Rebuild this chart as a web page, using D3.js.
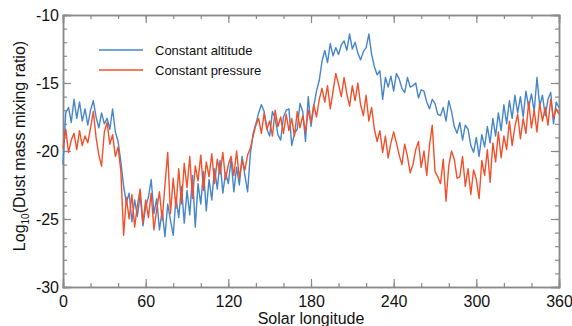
<!DOCTYPE html>
<html>
<head>
<meta charset="utf-8">
<script src="https://cdn.jsdelivr.net/npm/d3@7"></script>
<style>
  body { margin: 0; background: #fff; }
  svg { display: block; font-family: "Liberation Sans", Arial, sans-serif; }
</style>
</head>
<body>
<svg id="chart" width="572" height="326"></svg>
<script>
'use strict';

// solar longitude sampling (every 2 degrees)
var longitude = d3.range(0, 361, 2);

// log10 dust mass mixing ratio
var constAltitude = [
  -21.0,-17.2,-16.8,-17.9,-16.2,-17.6,-16.4,-17.8,-16.9,-18.1,
  -17.0,-16.3,-17.5,-18.3,-17.2,-18.0,-17.6,-18.4,-16.9,-18.6,
  -19.3,-20.8,-22.6,-23.8,-23.1,-25.2,-23.6,-24.8,-23.2,-25.5,
  -24.1,-23.4,-22.1,-24.6,-23.5,-25.8,-24.4,-26.3,-23.9,-25.1,
  -26.2,-23.4,-24.9,-22.6,-25.3,-22.9,-24.7,-21.8,-25.6,-22.4,
  -23.9,-21.5,-24.4,-22.1,-23.6,-21.3,-22.8,-20.7,-23.1,-21.6,
  -22.4,-20.6,-23.0,-21.2,-22.5,-20.4,-21.8,-23.0,-20.2,-18.7,
  -18.0,-17.2,-16.6,-17.1,-18.4,-18.9,-17.1,-17.6,-18.8,-19.2,
  -17.5,-17.0,-16.9,-19.6,-18.7,-18.4,-16.5,-17.1,-19.3,-16.0,
  -18.2,-16.7,-15.6,-14.8,-13.4,-12.6,-13.5,-12.1,-13.0,-12.4,
  -12.9,-12.2,-11.9,-12.6,-11.4,-12.5,-12.0,-12.8,-13.3,-12.7,
  -12.4,-11.4,-12.9,-13.8,-14.4,-14.1,-16.2,-14.6,-15.3,-14.5,
  -15.6,-14.3,-14.7,-15.4,-15.7,-14.6,-15.3,-15.2,-15.0,-16.1,
  -15.5,-15.6,-16.4,-16.9,-16.2,-16.5,-17.3,-17.4,-16.8,-17.8,
  -16.3,-17.1,-18.2,-18.7,-17.9,-19.2,-18.1,-18.4,-19.6,-20.1,
  -19.0,-20.4,-18.8,-19.7,-18.2,-19.4,-17.6,-18.9,-17.2,-18.5,
  -16.6,-18.0,-16.3,-17.6,-15.9,-17.2,-16.0,-17.5,-15.6,-16.8,
  -15.8,-17.1,-14.6,-16.7,-15.9,-17.4,-16.2,-15.7,-18.0,-16.4,
  -16.8
];

var constPressure = [
  -19.8,-18.4,-20.1,-19.2,-18.7,-19.9,-18.5,-19.6,-18.9,-19.4,
  -18.3,-17.1,-19.0,-20.3,-21.1,-18.6,-17.9,-19.5,-18.8,-20.4,
  -19.7,-21.5,-26.2,-23.4,-25.0,-23.2,-25.6,-24.0,-22.8,-25.3,
  -23.6,-24.9,-23.1,-25.8,-24.3,-23.0,-25.1,-22.5,-20.1,-24.6,
  -22.0,-24.2,-21.3,-23.9,-20.9,-22.7,-20.4,-23.5,-21.1,-22.2,
  -20.3,-22.9,-20.8,-21.9,-20.2,-22.4,-20.6,-21.7,-20.1,-22.1,
  -21.0,-20.4,-21.8,-20.0,-22.0,-20.7,-21.4,-20.3,-19.8,-18.9,
  -18.1,-17.6,-18.7,-17.2,-18.4,-17.8,-18.9,-17.0,-18.2,-17.5,
  -18.7,-17.3,-18.5,-17.6,-18.9,-17.1,-18.3,-17.4,-18.6,-17.0,
  -17.9,-16.6,-17.5,-16.2,-15.4,-16.4,-15.2,-16.9,-15.6,-14.3,
  -15.1,-16.0,-14.6,-15.8,-16.7,-15.2,-16.3,-15.0,-16.6,-17.4,
  -15.9,-17.8,-16.8,-18.4,-19.3,-18.5,-20.1,-18.9,-20.5,-19.4,
  -18.6,-19.4,-20.3,-21.0,-19.5,-20.4,-21.6,-21.0,-19.9,-19.3,
  -21.2,-20.0,-21.8,-19.6,-18.1,-21.5,-21.9,-22.4,-20.6,-23.7,
  -21.1,-20.0,-20.6,-22.0,-21.9,-20.4,-22.6,-21.3,-23.2,-21.4,
  -22.1,-23.5,-20.7,-21.8,-19.9,-22.3,-19.4,-20.8,-18.6,-20.5,
  -18.9,-19.9,-17.8,-19.6,-18.2,-17.3,-19.1,-17.6,-18.7,-16.4,
  -18.3,-17.0,-18.6,-16.5,-17.8,-16.8,-18.1,-16.2,-17.6,-16.9,
  -17.3
];

var xTicks = [0, 60, 120, 180, 240, 300, 360];
var yTicks = [-30, -25, -20, -15, -10];
var seriesNames = ['Constant altitude', 'Constant pressure'];
var seriesColors = ['#4585cc', '#f2502a'];

var plotLeft = 63, plotRight = 559, plotTop = 15, plotBottom = 287;
var svg = d3.select('#chart');

var x = d3.scaleLinear().domain([0, 360]).range([plotLeft, plotRight]);
var y = d3.scaleLinear().domain([-30, -10]).range([plotBottom, plotTop]);

var axisColor = '#8a8a8a';
var plainLabel = function(d) { return String(d); };   // keeps the plain hyphen minus

function styleAxis(g) {
  g.select('.domain').attr('stroke', axisColor).attr('stroke-width', 1.5);
  g.selectAll('.tick line').attr('stroke', axisColor).attr('stroke-width', 1.2);
  g.selectAll('.tick text').attr('fill', '#111').attr('font-size', 16);
}

// minor ticks first
var minorX = d3.range(0, 361, 20);
var minorY = d3.range(-30, -9, 1);
svg.append('g').attr('transform', 'translate(0,' + plotBottom + ')')
  .call(d3.axisBottom(x).tickValues(minorX).tickSize(-4).tickFormat('')).call(styleAxis);
svg.append('g').attr('transform', 'translate(0,' + plotTop + ')')
  .call(d3.axisTop(x).tickValues(minorX).tickSize(-4).tickFormat('')).call(styleAxis);
svg.append('g').attr('transform', 'translate(' + plotLeft + ',0)')
  .call(d3.axisLeft(y).tickValues(minorY).tickSize(-4).tickFormat('')).call(styleAxis);
svg.append('g').attr('transform', 'translate(' + plotRight + ',0)')
  .call(d3.axisRight(y).tickValues(minorY).tickSize(-4).tickFormat('')).call(styleAxis);

// major ticks
svg.append('g').attr('transform', 'translate(0,' + plotBottom + ')')
  .call(d3.axisBottom(x).tickValues(xTicks).tickSize(-8).tickPadding(9).tickFormat(plainLabel)).call(styleAxis);
svg.append('g').attr('transform', 'translate(0,' + plotTop + ')')
  .call(d3.axisTop(x).tickValues(xTicks).tickSize(-8).tickFormat('')).call(styleAxis);
svg.append('g').attr('transform', 'translate(' + plotLeft + ',0)')
  .call(d3.axisLeft(y).tickValues(yTicks).tickSize(-8).tickPadding(4).tickFormat(plainLabel)).call(styleAxis);
svg.append('g').attr('transform', 'translate(' + plotRight + ',0)')
  .call(d3.axisRight(y).tickValues(yTicks).tickSize(-8).tickFormat('')).call(styleAxis);

// lines
var series = [constAltitude, constPressure];
var line = d3.line()
  .x(function(d, i) { return x(longitude[i]); })
  .y(function(d) { return y(d); });

svg.selectAll('path.series').data(series)
  .enter()
  .append('path')
  .attr('class', 'series')
  .attr('d', line)
  .attr('fill', 'none')
  .attr('stroke', function(d, i) { return seriesColors[i]; })
  .attr('stroke-width', 1.4)
  .attr('stroke-linejoin', 'round');

// legend
var legend = svg.selectAll('g.legend').data(seriesNames)
  .enter()
  .append('g')
  .attr('class', 'legend')
  .attr('transform', function(d, i) { return 'translate(99,' + (50 + i * 20) + ')'; });
legend.append('line')
  .attr('x1', 0).attr('x2', 44)
  .attr('stroke', function(d, i) { return seriesColors[i]; })
  .attr('stroke-width', 1.5);
legend.append('text')
  .attr('x', 56).attr('dy', '0.35em')
  .attr('font-size', 13).attr('fill', '#111')
  .text(function(d) { return d; });

// axis titles
svg.append('text')
  .attr('x', (plotLeft + plotRight) / 2).attr('y', 324)
  .attr('text-anchor', 'middle').attr('font-size', 16).attr('fill', '#111')
  .text('Solar longitude');

var yTitle = svg.append('text')
  .attr('transform', 'translate(25,146) rotate(-90)')
  .attr('text-anchor', 'middle').attr('font-size', 16).attr('fill', '#111');
yTitle.append('tspan').text('Log');
yTitle.append('tspan').attr('font-size', 10).attr('dy', 4).text('10');
yTitle.append('tspan').attr('dy', -4).text('(Dust mass mixing ratio)');
</script>
</body>
</html>
